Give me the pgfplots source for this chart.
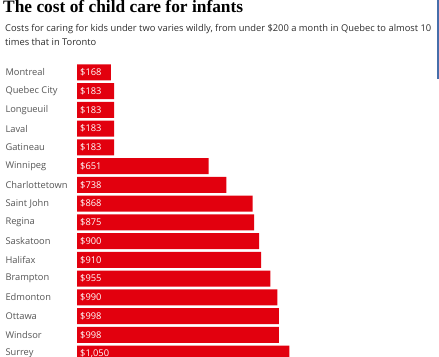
\documentclass[border=0pt]{standalone}
\usepackage{pgfplots}
\pgfplotsset{compat=1.18}
\usepackage{fontspec}
\setmainfont{Open Sans}
\newfontfamily\titlefont{Liberation Serif}
\definecolor{barred}{RGB}{226,0,14}
\definecolor{labgray}{RGB}{85,85,85}
\definecolor{subgray}{RGB}{45,45,45}
\definecolor{edgeblue}{RGB}{70,110,170}
\begin{document}
\begin{tikzpicture}
\useasboundingbox (0,0) rectangle (439bp,357bp);
\clip (0,0) rectangle (439bp,357bp);
\node[anchor=base west, inner sep=0pt] at (3bp,344.5bp)
  {\resizebox{240bp}{!}{\titlefont\bfseries\fontsize{19bp}{22bp}\selectfont The cost of child care for infants}};
\node[anchor=base west, inner sep=0pt, text=subgray] at (5bp,325bp)
  {\fontsize{9.35bp}{11bp}\selectfont Costs for caring for kids under two varies wildly, from under \$200 a month in Quebec to almost 10};
\node[anchor=base west, inner sep=0pt, text=subgray] at (5bp,311bp)
  {\fontsize{9.35bp}{11bp}\selectfont times that in Toronto};
\draw[edgeblue, line width=1.5bp] (438bp,357bp) -- (438bp,278bp);
\begin{axis}[
  at={(77bp,-6.1bp)}, anchor=south west,
  scale only axis,
  width=222.6bp, height=300bp,
  xmin=0, xmax=1100,
  ymin=-15.5, ymax=0.5,
  clip=false,
  axis line style={draw=none},
  xtick=\empty,
  ytick={0,-1,-2,-3,-4,-5,-6,-7,-8,-9,-10,-11,-12,-13,-14,-15},
  yticklabels={Montreal,Quebec City,Longueuil,Laval,Gatineau,Winnipeg,Charlottetown,Saint John,Regina,Saskatoon,Halifax,Brampton,Edmonton,Ottawa,Windsor,Surrey},
  major tick length=0pt,
  y tick label style={anchor=west, xshift=-75bp, text=labgray, font=\fontsize{9.3bp}{11bp}\selectfont},
]
\addplot[xbar, bar width=16bp, bar shift=0pt, fill=barred, draw=none] coordinates {
  (168,0) (183,-1) (183,-2) (183,-3) (183,-4) (651,-5) (738,-6) (868,-7)
  (875,-8) (900,-9) (910,-10) (955,-11) (990,-12) (998,-13) (998,-14) (1050,-15)
};
\addplot[only marks, mark=none, point meta=explicit symbolic,
  nodes near coords,
  every node near coord/.append style={anchor=west, text=white, inner sep=3bp, font=\fontsize{9.3bp}{11bp}\selectfont}]
  coordinates {
  (0,0) [\$168] (0,-1) [\$183] (0,-2) [\$183] (0,-3) [\$183] (0,-4) [\$183]
  (0,-5) [\$651] (0,-6) [\$738] (0,-7) [\$868] (0,-8) [\$875] (0,-9) [\$900]
  (0,-10) [\$910] (0,-11) [\$955] (0,-12) [\$990] (0,-13) [\$998] (0,-14) [\$998]
  (0,-15) [\$1,050]
};
\end{axis}
\end{tikzpicture}
\end{document}
